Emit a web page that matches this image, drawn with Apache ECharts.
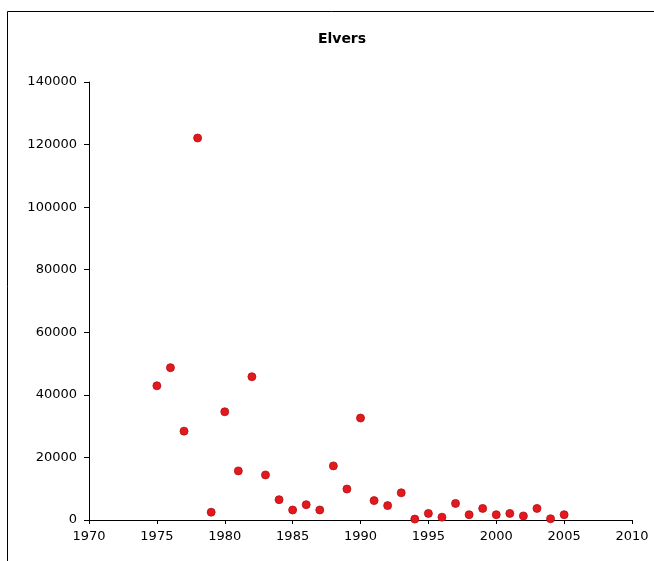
<!DOCTYPE html>
<html>
<head>
<meta charset="utf-8">
<script src="https://cdn.jsdelivr.net/npm/echarts@6/dist/echarts.min.js"></script>
<style>html,body{margin:0;padding:0;background:#fff}#c{width:654px;height:561px}</style>
</head>
<body>
<div id="c"></div>
<script>
const titleText = "Elvers";
const years = [1975,1976,1977,1978,1979,1980,1981,1982,1983,1984,1985,1986,1987,1988,1989,1990,1991,1992,1993,1994,1995,1996,1997,1998,1999,2000,2001,2002,2003,2004,2005];
const elvers = [42900,48700,28400,122100,2500,34600,15700,45800,14400,6500,3200,4900,3200,17300,9900,32600,6200,4600,8700,300,2100,900,5300,1700,3700,1700,2100,1300,3700,400,1700];
const xTicks = {min:1970, max:2010, interval:5};
const yTicks = {min:0, max:140000, interval:20000};

const chart = echarts.init(document.getElementById('c'), null, {renderer:'canvas'});
const font = 'DejaVu Sans, Verdana, sans-serif';
chart.setOption({
  animation:false,
  backgroundColor:'#fff',
  title:{text:titleText, left:337, top:27, textAlign:'center',
    textStyle:{fontFamily:font, fontSize:14, fontWeight:'bold', color:'#000'}},
  graphic:[{type:'rect', shape:{x:7.5,y:11.5,width:800,height:700}, style:{fill:'none', stroke:'#000', lineWidth:1}, silent:true}],
  grid:{left:89, right:22, top:82, bottom:41, containLabel:false},
  xAxis:{type:'value', min:xTicks.min, max:xTicks.max, interval:xTicks.interval,
    axisLine:{show:true, lineStyle:{color:'#000', width:1}},
    axisTick:{show:true, inside:false, length:4, lineStyle:{color:'#000'}},
    splitLine:{show:false},
    axisLabel:{fontFamily:font, fontSize:13, color:'#000', margin:10, formatter:v=>String(v)}},
  yAxis:{type:'value', min:yTicks.min, max:yTicks.max, interval:yTicks.interval,
    axisLine:{show:true, lineStyle:{color:'#000', width:1}},
    axisTick:{show:true, inside:false, length:5, lineStyle:{color:'#000'}},
    splitLine:{show:false},
    axisLabel:{fontFamily:font, fontSize:13, color:'#000', margin:12, formatter:v=>String(v)}},
  series:[{type:'scatter', data:years.map((y,i)=>[y, elvers[i]]), symbol:'circle', symbolSize:8,
    itemStyle:{color:'#e3191e', opacity:1, borderColor:'#b01015', borderWidth:0.8}}]
});
</script>
</body>
</html>
